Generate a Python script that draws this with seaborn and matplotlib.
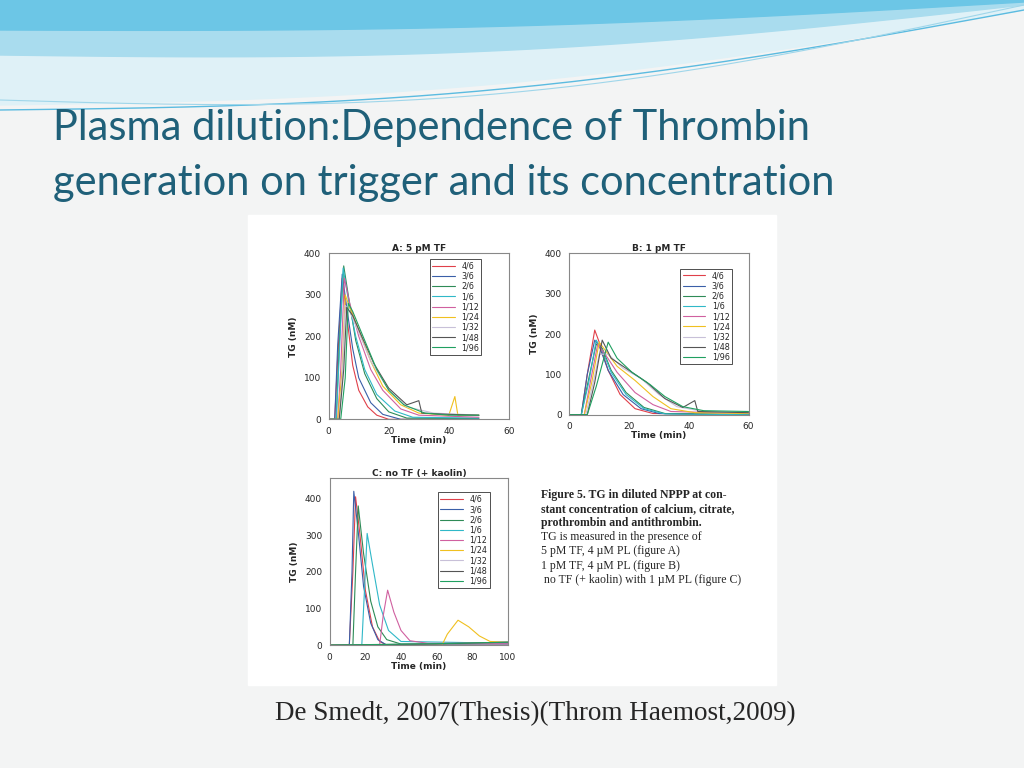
import matplotlib
matplotlib.use("Agg")
import matplotlib.pyplot as plt
import seaborn as sns
import numpy as np
import pandas as pd

# Start - data (time in min, TG in nM)

dilutions = ['4/6', '3/6', '2/6', '1/6', '1/12', '1/24', '1/32', '1/48', '1/96']
line_colors = ['#e0404a', '#3a5fa8', '#2e8b57', '#30b8c8', '#d060a0',
               '#f0c020', '#c8c0d8', '#555555', '#20a060']

panel_a = {
    '4/6': [(0, 0), (2, 0), (3, 150), (4.5, 340), (6, 250), (8, 130), (10, 70), (13, 30), (16, 10), (20, 0), (50, 0)],
    '3/6': [(0, 0), (2, 0), (3, 180), (4.5, 350), (6, 270), (8, 170), (10, 100), (14, 40), (18, 12), (24, 0), (50, 0)],
    '2/6': [(0, 0), (2.5, 0), (3.5, 180), (5, 370), (6.5, 300), (9, 190), (12, 110), (16, 50), (20, 18), (26, 3), (50, 2)],
    '1/6': [(0, 0), (2.5, 0), (3.5, 150), (4.8, 365), (6.5, 290), (9, 200), (12, 120), (16, 60), (22, 20), (28, 5), (50, 3)],
    '1/12': [(0, 0), (3, 0), (4, 120), (5.2, 340), (7, 280), (10, 200), (14, 120), (18, 70), (24, 25), (30, 10), (50, 5)],
    '1/24': [(0, 0), (3, 0), (4.5, 120), (5.5, 300), (7, 270), (10, 215), (14, 140), (18, 80), (24, 35), (30, 15), (40, 10), (42, 55), (43, 10), (50, 10)],
    '1/32': [(0, 0), (3.5, 0), (4.5, 100), (5.5, 275), (7, 260), (10, 210), (14, 140), (20, 70), (26, 30), (35, 15), (50, 10)],
    '1/48': [(0, 0), (3.5, 0), (5, 120), (6, 270), (8, 250), (11, 200), (15, 135), (20, 75), (26, 35), (30, 45), (31, 15), (40, 12), (50, 10)],
    '1/96': [(0, 0), (4, 0), (5.5, 100), (6.5, 280), (8, 260), (12, 190), (16, 120), (20, 70), (25, 35), (32, 15), (40, 10), (50, 10)],
}

panel_b = {
    '4/6': [(0, 0), (4, 0), (6, 100), (8.5, 210), (10, 180), (13, 110), (17, 50), (22, 15), (28, 3), (60, 0)],
    '3/6': [(0, 0), (4, 0), (6, 100), (8.5, 185), (10, 170), (13, 110), (18, 50), (24, 15), (30, 3), (60, 0)],
    '2/6': [(0, 0), (4, 0), (6.5, 90), (9, 175), (11, 165), (14, 110), (19, 55), (25, 18), (32, 3), (60, 0)],
    '1/6': [(0, 0), (4, 0), (6.5, 80), (9, 185), (11, 160), (14, 105), (19, 50), (25, 15), (32, 2), (60, 0)],
    '1/12': [(0, 0), (5, 0), (7, 80), (9.5, 175), (12, 150), (16, 105), (22, 55), (28, 25), (34, 8), (60, 3)],
    '1/24': [(0, 0), (5, 0), (7.5, 80), (10, 180), (12, 160), (16, 120), (22, 85), (28, 45), (34, 15), (42, 5), (60, 3)],
    '1/32': [(0, 0), (5.5, 0), (8, 80), (10, 150), (13, 150), (18, 115), (24, 90), (30, 50), (36, 20), (45, 8), (60, 5)],
    '1/48': [(0, 0), (6, 0), (8.5, 80), (11, 185), (14, 140), (20, 110), (26, 80), (32, 40), (38, 18), (42, 35), (43, 8), (60, 5)],
    '1/96': [(0, 0), (6, 0), (9, 70), (13, 180), (16, 140), (21, 105), (27, 75), (32, 45), (38, 20), (45, 10), (60, 8)],
}

panel_c = {
    '4/6': [(0, 0), (11, 0), (13, 200), (14.5, 405), (17, 300), (20, 150), (24, 50), (28, 10), (32, 0), (100, 0)],
    '3/6': [(0, 0), (11, 0), (12.5, 200), (13.5, 420), (16, 310), (19, 160), (23, 60), (27, 15), (32, 0), (100, 0)],
    '2/6': [(0, 0), (13, 0), (14.5, 200), (16, 380), (19, 250), (23, 120), (27, 50), (32, 15), (40, 3), (100, 5)],
    '1/6': [(0, 0), (18, 0), (19.5, 150), (21, 305), (24, 220), (28, 110), (33, 40), (40, 10), (100, 5)],
    '1/12': [(0, 0), (28, 0), (30, 80), (32.5, 150), (36, 90), (40, 40), (45, 12), (55, 5), (100, 5)],
    '1/24': [(0, 0), (63, 0), (66, 30), (72, 68), (78, 50), (84, 25), (90, 10), (100, 8)],
    '1/32': [(0, 0), (60, 3), (100, 8)],
    '1/48': [(0, 0), (60, 3), (100, 8)],
    '1/96': [(0, 0), (60, 4), (100, 8)],
}

caption_bold = ["Figure 5. TG in diluted NPPP at con-",
                "stant concentration of calcium, citrate,",
                "prothrombin and antithrombin."]
caption_plain = ["TG is measured in the presence of",
                 "5 pM TF, 4 \u00b5M PL (figure A)",
                 "1 pM TF, 4 \u00b5M PL (figure B)",
                 " no TF (+ kaolin) with 1 \u00b5M PL (figure C)"]

# End data

sns.set_style("white")
fig = plt.figure(figsize=(10.24, 7.68), dpi=100)
fig.patch.set_facecolor('#f3f4f4')

# decorative waves at the top
bg = fig.add_axes([0, 0, 1, 1], zorder=-5)
bg.set_xlim(0, 1024)
bg.set_ylim(768, 0)
bg.axis('off')
xs = np.linspace(0, 1024, 200)
u = xs / 1024
bg.fill_between(xs, 0, 105 - 95 * u + 25 * np.sin(u * np.pi), color='#dff1f7')
bg.fill_between(xs, 0, 55 - 50 * u + 20 * np.sin(u * np.pi), color='#a9dcee')
bg.fill_between(xs, 0, 30 - 28 * u + 10 * np.sin(u * np.pi), color='#6cc6e6')
bg.plot(xs, 110 - 100 * u + 28 * np.sin(u * np.pi), color='#5bbbe0', lw=1)
bg.plot(xs, 100 - 95 * u + 40 * np.sin(u * np.pi), color='#9fd6ea', lw=0.8)
bg.add_patch(plt.Rectangle((248, 215), 528, 470, color='white'))

fig.text(0.052, 0.818, "Plasma dilution:Dependence of Thrombin", fontsize=30,
         color='#1f6079', family='Lato')
fig.text(0.052, 0.746, "generation on trigger and its concentration", fontsize=30,
         color='#1f6079', family='Lato')
fig.text(0.269, 0.062, "De Smedt, 2007(Thesis)(Throm Haemost,2009)", fontsize=19.5,
         family='Liberation Serif')


def draw_panel(rect, data, title, xmax, xticks, ymax, anchor):
    ax = fig.add_axes(rect)
    for name, color in zip(dilutions, line_colors):
        df = pd.DataFrame(data[name], columns=['t', 'tg'])
        sns.lineplot(data=df, x='t', y='tg', ax=ax, color=color, lw=0.8,
                     label=name, sort=False, estimator=None)
    ax.set_xlim(0, xmax)
    ax.set_ylim(0, ymax)
    ax.set_xticks(xticks)
    ax.set_yticks([0, 100, 200, 300, 400])
    ax.tick_params(labelsize=6.5, length=2, direction='out')
    ax.set_xlabel("Time (min)", fontsize=6.5, fontweight='bold', labelpad=0)
    ax.set_ylabel("TG (nM)", fontsize=6.5, fontweight='bold')
    ax.set_title(title, fontsize=6.5, fontweight='bold', pad=2)
    for s in ax.spines.values():
        s.set_color('#888888')
        s.set_linewidth(0.8)
    leg = ax.legend(loc='upper right', bbox_to_anchor=anchor, fontsize=5.8,
                    frameon=True, fancybox=False, handlelength=2.8,
                    labelspacing=0.15, borderpad=0.3)
    leg.get_frame().set_edgecolor('black')
    leg.get_frame().set_linewidth(0.6)
    return ax


draw_panel([0.321, 0.454, 0.176, 0.216], panel_a, "A: 5 pM TF", 60, [0, 20, 40, 60], 400,
           (0.87, 0.99))
draw_panel([0.556, 0.460, 0.175, 0.210], panel_b, "B: 1 pM TF", 60, [0, 20, 40, 60], 400,
           (0.93, 0.93))
draw_panel([0.322, 0.160, 0.174, 0.217], panel_c, "C: no TF (+ kaolin)", 100,
           [0, 20, 40, 60, 80, 100], 455, (0.92, 0.94))

y = 0.352
for line in caption_bold:
    fig.text(0.528, y, line, fontsize=8.5, fontweight='bold', family='Liberation Serif')
    y -= 0.0185
for line in caption_plain:
    fig.text(0.528, y, line, fontsize=8.5, family='Liberation Serif')
    y -= 0.0185

fig.savefig("out.png", dpi=100, facecolor=fig.get_facecolor())
